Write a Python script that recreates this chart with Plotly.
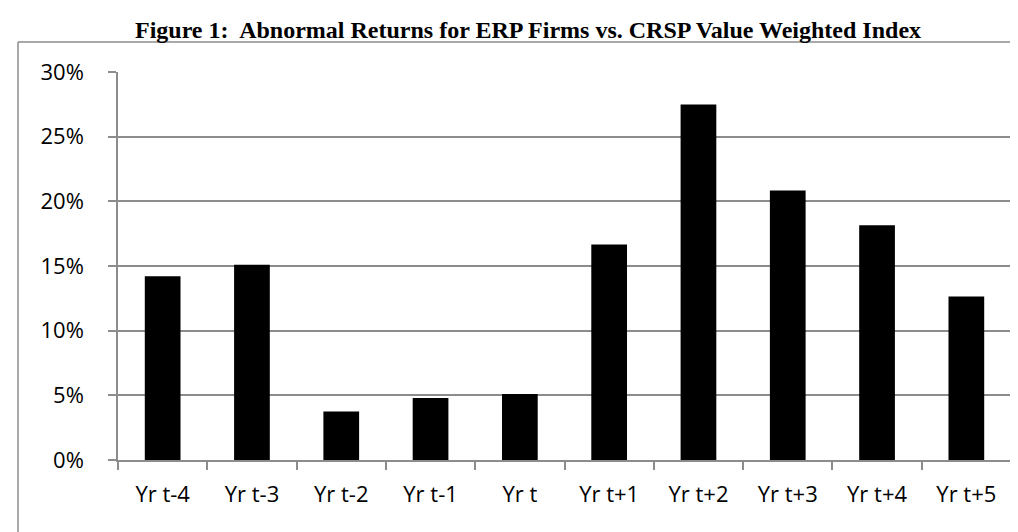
import plotly.graph_objects as go

categories = ["Yr t-4", "Yr t-3", "Yr t-2", "Yr t-1", "Yr t", "Yr t+1", "Yr t+2", "Yr t+3", "Yr t+4", "Yr t+5"]
abnormal_returns = [0.142, 0.151, 0.0375, 0.048, 0.051, 0.1666, 0.2748, 0.2083, 0.1815, 0.1264]
y_ticks = [0, 0.05, 0.10, 0.15, 0.20, 0.25, 0.30]
y_tick_labels = ["0%", "5%", "10%", "15%", "20%", "25%", "30%"]
title_text = "<b>Figure 1:  Abnormal Returns for ERP Firms vs. CRSP Value Weighted Index</b>"

W, H = 1018, 532
ML, MR, MT, MB = 110, 15, 64, 80
pw = W - ML - MR
ph = H - MT - MB

fig = go.Figure(go.Bar(x=categories, y=abnormal_returns, marker=dict(color="#000000", line=dict(width=0))))

grid_col = "#8c8c8c"
axis_font = dict(family="Open Sans, sans-serif", size=22, color="#000000")

fig.update_layout(
    width=W, height=H,
    margin=dict(l=ML, r=MR, t=MT, b=MB),
    paper_bgcolor="white", plot_bgcolor="white",
    bargap=0.6,
    showlegend=False,
    title=dict(text=title_text, x=520 / W, xanchor="center", y=1 - 22 / H, yanchor="middle",
               font=dict(family="Liberation Serif, Times New Roman, serif", size=24, color="#000000")),
    xaxis=dict(type="category", showline=True, linecolor=grid_col, linewidth=1.5,
               ticks="outside", tickson="boundaries", ticklen=8, tickcolor=grid_col, tickwidth=1.5,
               tickfont=axis_font, showgrid=False, ticklabelstandoff=14),
    yaxis=dict(range=[0, 0.30], tickvals=y_ticks, ticktext=y_tick_labels,
               showline=True, linecolor=grid_col, linewidth=1.5,
               ticks="outside", ticklen=8, tickcolor=grid_col, tickwidth=1.5,
               showgrid=True, gridcolor=grid_col, gridwidth=1.5, zeroline=False,
               tickfont=axis_font, ticklabelstandoff=20),
)

# Outer frame (left and top edges of the chart border)
x_left = (10 - ML) / pw
y_top = (H - MB - 34) / ph
fig.add_shape(type="line", xref="paper", yref="paper", x0=x_left, x1=x_left, y0=-0.5, y1=y_top,
              line=dict(color=grid_col, width=1.5))
fig.add_shape(type="line", xref="paper", yref="paper", x0=x_left, x1=1.2, y0=y_top, y1=y_top,
              line=dict(color=grid_col, width=1.5))

fig.write_html("out.html")
